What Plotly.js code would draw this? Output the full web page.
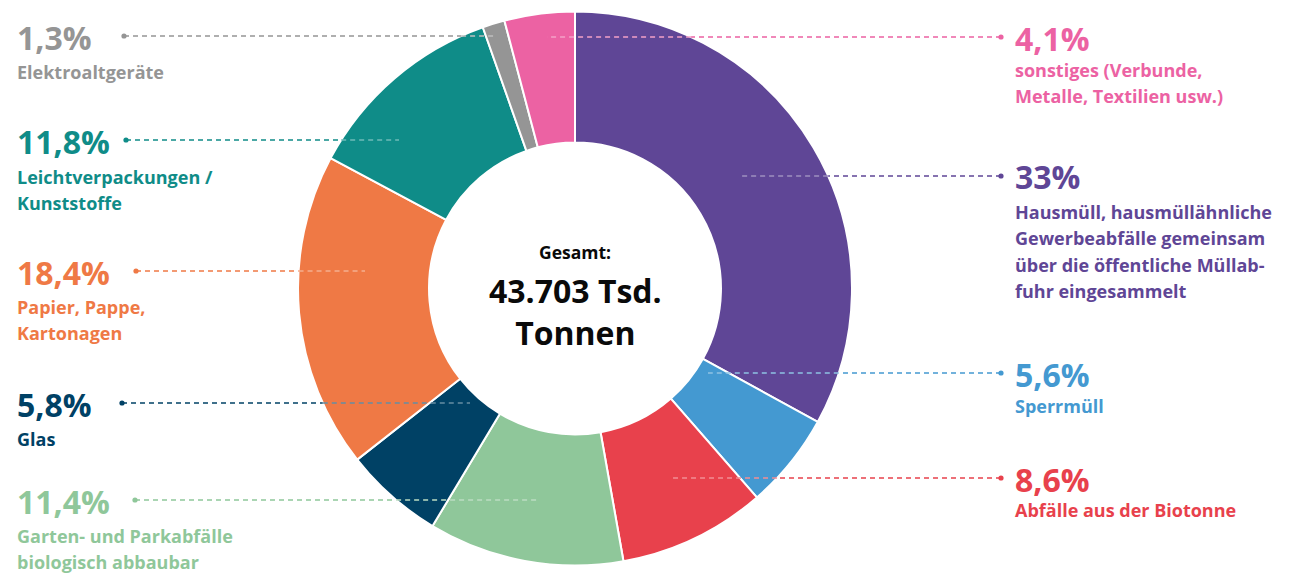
<!DOCTYPE html>
<html>
<head>
<meta charset="utf-8">
<script src="https://cdn.plot.ly/plotly-3.0.1.min.js"></script>
<style>html,body{margin:0;padding:0;background:#fff;}#chart{width:1296px;height:573px;}</style>
</head>
<body>
<div id="chart"></div>
<script>
// ---- data ----
const categories = [
  "Hausmüll, hausmüllähnliche\nGewerbeabfälle gemeinsam\nüber die öffentliche Müllab-\nfuhr eingesammelt",
  "Sperrmüll",
  "Abfälle aus der Biotonne",
  "Garten- und Parkabfälle\nbiologisch abbaubar",
  "Glas",
  "Papier, Pappe,\nKartonagen",
  "Leichtverpackungen /\nKunststoffe",
  "Elektroaltgeräte",
  "sonstiges (Verbunde,\nMetalle, Textilien usw.)"
];
const shares = [33, 5.6, 8.6, 11.4, 5.8, 18.4, 11.8, 1.3, 4.1];
const shareLabels = ["33%", "5,6%", "8,6%", "11,4%", "5,8%", "18,4%", "11,8%", "1,3%", "4,1%"];
const centerTitle = "Gesamt:";
const centerTotal = ["43.703 Tsd.", "Tonnen"];

// ---- styles / layout ----
const colors = ["#5f4696", "#4499d1", "#e8414c", "#8fc79a", "#004165", "#ef7945", "#0f8c88", "#959595", "#ec62a3"];
const W = 1296, H = 573;
const cx = 575, cy = 288.5, R = 277;
// label placement per category: side, text y (px), dot x, inner end x, first label line offset
const place = [
  {side: "r", y: 176, dot: 1001, inner: 740, off: 36},
  {side: "r", y: 373, dot: 1001, inner: 708, off: 33},
  {side: "r", y: 478, dot: 1001, inner: 672, off: 32},
  {side: "l", y: 500, dot: 135, inner: 537, off: 36},
  {side: "l", y: 403, dot: 122, inner: 470, off: 36},
  {side: "l", y: 271, dot: 136, inner: 365, off: 36},
  {side: "l", y: 140, dot: 126, inner: 399, off: 37},
  {side: "l", y: 36, dot: 124, inner: 495, off: 36},
  {side: "r", y: 37, dot: 1001, inner: 547, off: 33}
];
const LINE_GAP = 26.3;
const px = x => x / W;
const py = y => 1 - y / H;
function tint(hex, f) {
  const n = parseInt(hex.slice(1), 16);
  const r = (n >> 16) & 255, g = (n >> 8) & 255, b = n & 255;
  const m = c => Math.round(c + (255 - c) * f);
  return "rgb(" + m(r) + "," + m(g) + "," + m(b) + ")";
}

const trace = {
  type: "pie",
  values: shares,
  labels: categories.map(c => c.replace(/\n/g, " ")),
  sort: false,
  direction: "clockwise",
  rotation: 0,
  hole: 0.527,
  textinfo: "none",
  hoverinfo: "none",
  marker: {colors: colors, line: {color: "#ffffff", width: 2}},
  domain: {x: [px(cx - R), px(cx + R)], y: [py(cy + R), py(cy - R)]},
  showlegend: false
};

const shapes = [];
const annotations = [];
const FONT = "Open Sans";

place.forEach((p, i) => {
  const col = colors[i];
  const dy = p.y - cy;
  const half = Math.sqrt(Math.max(0, R * R - dy * dy));
  const edge = p.side === "l" ? cx - half : cx + half;
  shapes.push({type: "line", xref: "paper", yref: "paper",
    x0: px(p.dot), x1: px(edge), y0: py(p.y), y1: py(p.y),
    line: {color: col, width: 1.4, dash: "5px,4px"}});
  shapes.push({type: "line", xref: "paper", yref: "paper",
    x0: px(edge), x1: px(p.inner), y0: py(p.y), y1: py(p.y),
    line: {color: tint(col, 0.4), width: 1.4, dash: "5px,4px"}});
  shapes.push({type: "circle", xref: "paper", yref: "paper",
    x0: px(p.dot - 2.6), x1: px(p.dot + 2.6), y0: py(p.y + 2.6), y1: py(p.y - 2.6),
    fillcolor: col, line: {width: 0}});
  const tx = p.side === "l" ? 15 : 1013;
  annotations.push({xref: "paper", yref: "paper", x: px(tx), y: py(p.y + 1),
    xanchor: "left", yanchor: "middle", showarrow: false, text: shareLabels[i],
    font: {family: FONT, size: 32, color: col, weight: 700}});
  categories[i].split("\n").forEach((ln, k) => {
    annotations.push({xref: "paper", yref: "paper", x: px(tx), y: py(p.y + p.off + k * LINE_GAP),
      xanchor: "left", yanchor: "middle", showarrow: false, text: ln,
      font: {family: FONT, size: 18, color: col, weight: 700}});
  });
});

annotations.push({xref: "paper", yref: "paper", x: px(cx), y: py(252),
  xanchor: "center", yanchor: "middle", showarrow: false, text: centerTitle,
  font: {family: FONT, size: 17.5, color: "#0a0a0a", weight: 700}});
annotations.push({xref: "paper", yref: "paper", x: px(cx), y: py(311),
  xanchor: "center", yanchor: "middle", showarrow: false, text: centerTotal.join("<br>"),
  font: {family: FONT, size: 32, color: "#0a0a0a", weight: 700}});

const layout = {
  width: W, height: H,
  margin: {l: 0, r: 0, t: 0, b: 0},
  paper_bgcolor: "#ffffff",
  plot_bgcolor: "#ffffff",
  showlegend: false,
  shapes: shapes,
  annotations: annotations
};

Plotly.newPlot("chart", [trace], layout, {displayModeBar: false, staticPlot: true});
</script>
</body>
</html>
